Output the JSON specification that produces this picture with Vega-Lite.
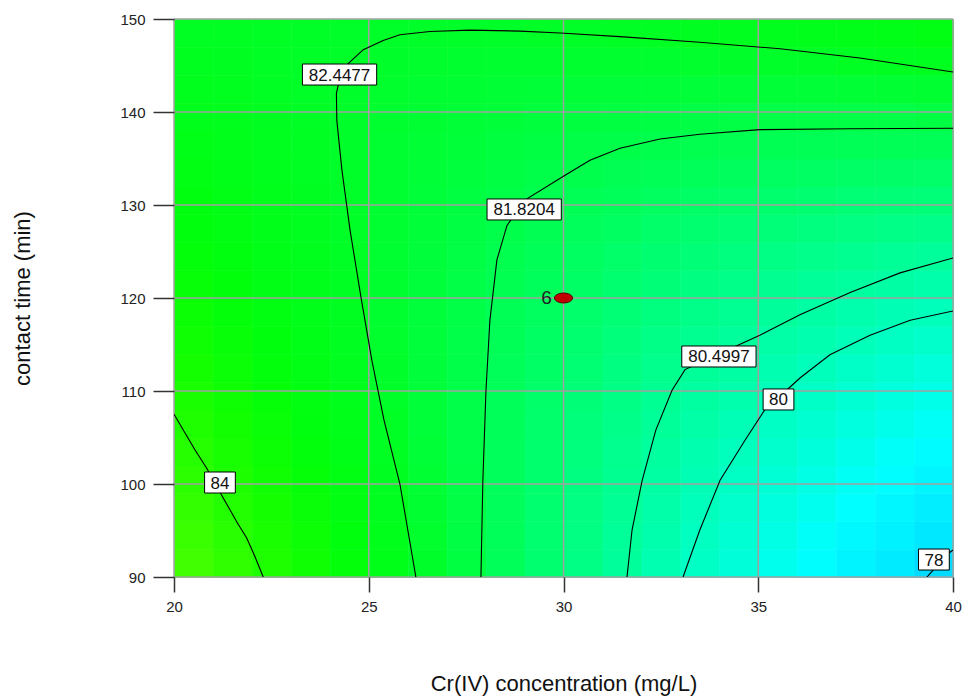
{
  "$schema": "https://vega.github.io/schema/vega-lite/v6.json",
  "width": 779,
  "height": 558,
  "autosize": {"type": "none"},
  "padding": {"left": 174, "top": 19, "right": 12, "bottom": 123},
  "background": "white",
  "config": {
    "view": {"stroke": null},
    "font": "Liberation Sans",
    "axis": {
      "domain": false, "grid": false,
      "tickColor": "#333333", "tickWidth": 1.5, "labelFlush": false,
      "labelFontSize": 15, "labelColor": "#222222", "labelFont": "Liberation Sans",
      "titleFontSize": 22, "titleFontWeight": "normal", "titleColor": "#111111", "titleFont": "Liberation Sans"
    },
    "axisX": {"tickSize": 15, "labelPadding": 7, "titlePadding": 59},
    "axisY": {"tickSize": 21, "labelPadding": 8, "titlePadding": 85}
  },
  "datasets": {
    "grid": [
      {"y": 90, "x": [20,21,22,23,24,25,26,27,28,29,30,31,32,33,34,35,36,37,38,39], "z": [84.64,84.24,83.84,83.46,83.08,82.70,82.33,81.97,81.61,81.26,80.91,80.57,80.24,79.91,79.59,79.28,78.97,78.66,78.37,78.07]},
      {"y": 93, "x": [20,21,22,23,24,25,26,27,28,29,30,31,32,33,34,35,36,37,38,39], "z": [84.47,84.09,83.71,83.35,82.98,82.63,82.28,81.93,81.60,81.26,80.94,80.62,80.30,79.99,79.69,79.40,79.11,78.82,78.54,78.27]},
      {"y": 96, "x": [20,21,22,23,24,25,26,27,28,29,30,31,32,33,34,35,36,37,38,39], "z": [84.31,83.95,83.59,83.24,82.90,82.56,82.23,81.91,81.59,81.27,80.97,80.67,80.37,80.08,79.80,79.52,79.25,78.99,78.73,78.47]},
      {"y": 99, "x": [20,21,22,23,24,25,26,27,28,29,30,31,32,33,34,35,36,37,38,39], "z": [84.15,83.81,83.47,83.14,82.82,82.50,82.19,81.88,81.58,81.29,81.00,80.72,80.44,80.17,79.91,79.65,79.40,79.16,78.92,78.68]},
      {"y": 102, "x": [20,21,22,23,24,25,26,27,28,29,30,31,32,33,34,35,36,37,38,39], "z": [84.00,83.68,83.36,83.05,82.75,82.45,82.15,81.87,81.59,81.31,81.04,80.78,80.52,80.27,80.03,79.79,79.56,79.33,79.11,78.90]},
      {"y": 105, "x": [20,21,22,23,24,25,26,27,28,29,30,31,32,33,34,35,36,37,38,39], "z": [83.86,83.55,83.25,82.96,82.68,82.40,82.12,81.86,81.60,81.34,81.09,80.85,80.61,80.38,80.15,79.93,79.72,79.51,79.31,79.12]},
      {"y": 108, "x": [20,21,22,23,24,25,26,27,28,29,30,31,32,33,34,35,36,37,38,39], "z": [83.72,83.43,83.15,82.88,82.62,82.36,82.10,81.85,81.61,81.38,81.14,80.92,80.70,80.49,80.28,80.08,79.89,79.70,79.52,79.34]},
      {"y": 111, "x": [20,21,22,23,24,25,26,27,28,29,30,31,32,33,34,35,36,37,38,39], "z": [83.58,83.32,83.06,82.81,82.56,82.32,82.08,81.86,81.63,81.42,81.20,81.00,80.80,80.61,80.42,80.24,80.06,79.90,79.73,79.58]},
      {"y": 114, "x": [20,21,22,23,24,25,26,27,28,29,30,31,32,33,34,35,36,37,38,39], "z": [83.46,83.21,82.97,82.74,82.51,82.29,82.07,81.86,81.66,81.46,81.27,81.08,80.90,80.73,80.56,80.40,80.25,80.10,79.95,79.81]},
      {"y": 117, "x": [20,21,22,23,24,25,26,27,28,29,30,31,32,33,34,35,36,37,38,39], "z": [83.34,83.11,82.89,82.68,82.47,82.26,82.07,81.88,81.69,81.51,81.34,81.18,81.01,80.86,80.71,80.57,80.43,80.30,80.18,80.06]},
      {"y": 120, "x": [20,21,22,23,24,25,26,27,28,29,30,31,32,33,34,35,36,37,38,39], "z": [83.22,83.02,82.81,82.62,82.43,82.25,82.07,81.90,81.73,81.57,81.42,81.27,81.13,81.00,80.87,80.74,80.62,80.51,80.41,80.31]},
      {"y": 123, "x": [20,21,22,23,24,25,26,27,28,29,30,31,32,33,34,35,36,37,38,39], "z": [83.11,82.93,82.74,82.57,82.40,82.23,82.08,81.92,81.78,81.64,81.50,81.37,81.25,81.14,81.03,80.92,80.82,80.73,80.65,80.57]},
      {"y": 126, "x": [20,21,22,23,24,25,26,27,28,29,30,31,32,33,34,35,36,37,38,39], "z": [83.01,82.84,82.68,82.52,82.37,82.23,82.09,81.96,81.83,81.71,81.59,81.48,81.38,81.28,81.19,81.11,81.03,80.96,80.89,80.83]},
      {"y": 129, "x": [20,21,22,23,24,25,26,27,28,29,30,31,32,33,34,35,36,37,38,39], "z": [82.92,82.77,82.62,82.48,82.35,82.23,82.11,81.99,81.89,81.78,81.69,81.60,81.51,81.44,81.36,81.30,81.24,81.19,81.14,81.10]},
      {"y": 132, "x": [20,21,22,23,24,25,26,27,28,29,30,31,32,33,34,35,36,37,38,39], "z": [82.83,82.70,82.57,82.45,82.34,82.23,82.13,82.04,81.95,81.87,81.79,81.72,81.65,81.60,81.54,81.50,81.46,81.42,81.39,81.37]},
      {"y": 135, "x": [20,21,22,23,24,25,26,27,28,29,30,31,32,33,34,35,36,37,38,39], "z": [82.74,82.63,82.52,82.43,82.33,82.24,82.16,82.09,82.02,81.95,81.90,81.85,81.80,81.76,81.73,81.70,81.68,81.66,81.65,81.65]},
      {"y": 138, "x": [20,21,22,23,24,25,26,27,28,29,30,31,32,33,34,35,36,37,38,39], "z": [82.66,82.57,82.48,82.40,82.33,82.26,82.20,82.14,82.09,82.05,82.01,81.98,81.95,81.93,81.92,81.91,81.91,81.91,81.92,81.94]},
      {"y": 141, "x": [20,21,22,23,24,25,26,27,28,29,30,31,32,33,34,35,36,37,38,39], "z": [82.59,82.52,82.45,82.39,82.33,82.29,82.24,82.21,82.17,82.15,82.13,82.12,82.11,82.11,82.11,82.13,82.14,82.17,82.19,82.23]},
      {"y": 144, "x": [20,21,22,23,24,25,26,27,28,29,30,31,32,33,34,35,36,37,38,39], "z": [82.52,82.47,82.42,82.38,82.34,82.32,82.29,82.27,82.26,82.26,82.26,82.26,82.27,82.29,82.32,82.35,82.38,82.43,82.47,82.53]},
      {"y": 147, "x": [20,21,22,23,24,25,26,27,28,29,30,31,32,33,34,35,36,37,38,39], "z": [82.46,82.43,82.40,82.38,82.36,82.35,82.35,82.35,82.35,82.37,82.39,82.41,82.44,82.48,82.53,82.57,82.63,82.69,82.76,82.83]}
    ],
    "gridx": [{"x": 20}, {"x": 25}, {"x": 30}, {"x": 35}, {"x": 40}],
    "gridy": [{"y": 90}, {"y": 100}, {"y": 110}, {"y": 120}, {"y": 130}, {"y": 140}, {"y": 150}],
    "contours": [
      {"level": "84", "i": 0, "x": 20, "y": 107.5},
      {"level": "84", "i": 1, "x": 20.54, "y": 103.66},
      {"level": "84", "i": 2, "x": 20.84, "y": 101.69},
      {"level": "84", "i": 3, "x": 21.22, "y": 98.82},
      {"level": "84", "i": 4, "x": 21.61, "y": 95.95},
      {"level": "84", "i": 5, "x": 21.87, "y": 94.16},
      {"level": "84", "i": 6, "x": 22.08, "y": 92.18},
      {"level": "84", "i": 7, "x": 22.29, "y": 90},
      {"level": "82.4477", "i": 0, "x": 26.21, "y": 90},
      {"level": "82.4477", "i": 1, "x": 25.8, "y": 100.0},
      {"level": "82.4477", "i": 2, "x": 25.39, "y": 106.9},
      {"level": "82.4477", "i": 3, "x": 25.08, "y": 113.3},
      {"level": "82.4477", "i": 4, "x": 24.8, "y": 120.1},
      {"level": "82.4477", "i": 5, "x": 24.52, "y": 127.3},
      {"level": "82.4477", "i": 6, "x": 24.31, "y": 133.8},
      {"level": "82.4477", "i": 7, "x": 24.18, "y": 139.1},
      {"level": "82.4477", "i": 8, "x": 24.17, "y": 142},
      {"level": "82.4477", "i": 9, "x": 24.3, "y": 144.5},
      {"level": "82.4477", "i": 10, "x": 24.52, "y": 145.4},
      {"level": "82.4477", "i": 11, "x": 24.86, "y": 146.7},
      {"level": "82.4477", "i": 12, "x": 25.37, "y": 147.7},
      {"level": "82.4477", "i": 13, "x": 25.8, "y": 148.3},
      {"level": "82.4477", "i": 14, "x": 26.57, "y": 148.66},
      {"level": "82.4477", "i": 15, "x": 27.6, "y": 148.8},
      {"level": "82.4477", "i": 16, "x": 28.88, "y": 148.7},
      {"level": "82.4477", "i": 17, "x": 29.91, "y": 148.5},
      {"level": "82.4477", "i": 18, "x": 31.45, "y": 148.1},
      {"level": "82.4477", "i": 19, "x": 33.5, "y": 147.5},
      {"level": "82.4477", "i": 20, "x": 35.56, "y": 146.8},
      {"level": "82.4477", "i": 21, "x": 37.61, "y": 145.8},
      {"level": "82.4477", "i": 22, "x": 40, "y": 144.3},
      {"level": "81.8204", "i": 0, "x": 27.88, "y": 90},
      {"level": "81.8204", "i": 1, "x": 27.93, "y": 100.4},
      {"level": "81.8204", "i": 2, "x": 28.01, "y": 110.1},
      {"level": "81.8204", "i": 3, "x": 28.11, "y": 117.6},
      {"level": "81.8204", "i": 4, "x": 28.29, "y": 124.1},
      {"level": "81.8204", "i": 5, "x": 28.55, "y": 127.8},
      {"level": "81.8204", "i": 6, "x": 29.0, "y": 130.5},
      {"level": "81.8204", "i": 7, "x": 30.04, "y": 133.2},
      {"level": "81.8204", "i": 8, "x": 30.68, "y": 134.8},
      {"level": "81.8204", "i": 9, "x": 31.45, "y": 136.1},
      {"level": "81.8204", "i": 10, "x": 32.48, "y": 137.1},
      {"level": "81.8204", "i": 11, "x": 33.5, "y": 137.6},
      {"level": "81.8204", "i": 12, "x": 35.04, "y": 138.1},
      {"level": "81.8204", "i": 13, "x": 37.36, "y": 138.2},
      {"level": "81.8204", "i": 14, "x": 40, "y": 138.25},
      {"level": "80.4997", "i": 0, "x": 31.63, "y": 90},
      {"level": "80.4997", "i": 1, "x": 31.76, "y": 95.05},
      {"level": "80.4997", "i": 2, "x": 32.02, "y": 100.4},
      {"level": "80.4997", "i": 3, "x": 32.37, "y": 105.8},
      {"level": "80.4997", "i": 4, "x": 32.79, "y": 110.1},
      {"level": "80.4997", "i": 5, "x": 33.12, "y": 112.3},
      {"level": "80.4997", "i": 6, "x": 34.0, "y": 114.0},
      {"level": "80.4997", "i": 7, "x": 35.04, "y": 116.0},
      {"level": "80.4997", "i": 8, "x": 36.07, "y": 118.2},
      {"level": "80.4997", "i": 9, "x": 37.36, "y": 120.6},
      {"level": "80.4997", "i": 10, "x": 38.64, "y": 122.7},
      {"level": "80.4997", "i": 11, "x": 40, "y": 124.3},
      {"level": "80", "i": 0, "x": 33.07, "y": 90},
      {"level": "80", "i": 1, "x": 33.5, "y": 95.05},
      {"level": "80", "i": 2, "x": 34.02, "y": 100.4},
      {"level": "80", "i": 3, "x": 34.66, "y": 104.7},
      {"level": "80", "i": 4, "x": 35.17, "y": 108.0},
      {"level": "80", "i": 5, "x": 35.6, "y": 109.6},
      {"level": "80", "i": 6, "x": 36.07, "y": 111.4},
      {"level": "80", "i": 7, "x": 36.84, "y": 113.9},
      {"level": "80", "i": 8, "x": 37.87, "y": 116.0},
      {"level": "80", "i": 9, "x": 38.9, "y": 117.6},
      {"level": "80", "i": 10, "x": 40, "y": 118.6},
      {"level": "78", "i": 0, "x": 39.33, "y": 90},
      {"level": "78", "i": 1, "x": 39.49, "y": 90.75},
      {"level": "78", "i": 2, "x": 39.9, "y": 92.58},
      {"level": "78", "i": 3, "x": 40, "y": 92.9}
    ],
    "labels": [
      {"label": "84", "x": 21.18, "y": 100.16},
      {"label": "82.4477", "x": 24.25, "y": 144.03},
      {"label": "81.8204", "x": 28.99, "y": 129.52},
      {"label": "80.4997", "x": 33.99, "y": 113.71},
      {"label": "80", "x": 35.52, "y": 109.09},
      {"label": "78", "x": 39.51, "y": 91.88}
    ],
    "design": [
      {"run": "6", "x": 30, "y": 120}
    ]
  },
  "layer": [
    {
      "data": {"name": "grid"},
      "transform": [{"flatten": ["x", "z"]}],
      "mark": {"type": "rect", "binSpacing": 0, "strokeWidth": 0.6},
      "encoding": {
        "x": {"field": "x", "type": "quantitative", "bin": {"binned": true, "step": 1}, "scale": {"domain": [20, 40], "nice": false, "zero": false},
              "axis": {"values": [20, 25, 30, 35, 40], "title": "Cr(IV) concentration (mg/L)"}},
        "y": {"field": "y", "type": "quantitative", "bin": {"binned": true, "step": 3}, "scale": {"domain": [90, 150], "nice": false, "zero": false},
              "axis": {"values": [90, 100, 110, 120, 130, 140, 150], "title": "contact time (min)"}},
        "color": {"field": "z", "type": "quantitative", "legend": null,
          "scale": {"domain": [77.8, 78.2, 79.0, 80.3, 81.5, 82.45, 83.0, 83.6, 84.7],
                    "range": ["#00c4ff", "#00e6ff", "#00ffff", "#00ffac", "#00ff60", "#00ff22", "#00ff0c", "#14ff00", "#44ff00"],
                    "interpolate": "rgb"}},
        "stroke": {"field": "z", "type": "quantitative", "legend": null,
          "scale": {"domain": [77.8, 78.2, 79.0, 80.3, 81.5, 82.45, 83.0, 83.6, 84.7],
                    "range": ["#00c4ff", "#00e6ff", "#00ffff", "#00ffac", "#00ff60", "#00ff22", "#00ff0c", "#14ff00", "#44ff00"],
                    "interpolate": "rgb"}}
      }
    },
    {
      "data": {"name": "gridx"},
      "mark": {"type": "rule", "color": "#a0a0a0", "strokeWidth": 1.5},
      "encoding": {
        "x": {"field": "x", "type": "quantitative", "axis": {"values": [20, 25, 30, 35, 40], "title": "Cr(IV) concentration (mg/L)"}}
      }
    },
    {
      "data": {"name": "gridy"},
      "mark": {"type": "rule", "color": "#a0a0a0", "strokeWidth": 1.5},
      "encoding": {
        "y": {"field": "y", "type": "quantitative", "axis": {"values": [90, 100, 110, 120, 130, 140, 150], "title": "contact time (min)"}}
      }
    },
    {
      "data": {"name": "contours"},
      "mark": {"type": "line", "color": "#000000", "strokeWidth": 1.1, "clip": true},
      "encoding": {
        "x": {"field": "x", "type": "quantitative", "axis": {"values": [20, 25, 30, 35, 40], "title": "Cr(IV) concentration (mg/L)"}},
        "y": {"field": "y", "type": "quantitative", "axis": {"values": [90, 100, 110, 120, 130, 140, 150], "title": "contact time (min)"}},
        "detail": {"field": "level", "type": "nominal"},
        "order": {"field": "i", "type": "quantitative"}
      }
    },
    {
      "data": {"name": "labels"},
      "mark": {"type": "point", "filled": true, "fill": "#ffffff", "stroke": "#000000", "strokeWidth": 1, "opacity": 1, "size": 5625},
      "encoding": {
        "x": {"field": "x", "type": "quantitative", "axis": {"values": [20, 25, 30, 35, 40], "title": "Cr(IV) concentration (mg/L)"}},
        "y": {"field": "y", "type": "quantitative", "axis": {"values": [90, 100, 110, 120, 130, 140, 150], "title": "contact time (min)"}},
        "shape": {"field": "label", "type": "nominal", "legend": null,
          "scale": {"domain": ["84", "82.4477", "81.8204", "80.4997", "80", "78"],
                    "range": ["M-0.41,-0.28L0.41,-0.28L0.41,0.28L-0.41,0.28Z", "M-0.99,-0.28L0.99,-0.28L0.99,0.28L-0.99,0.28Z", "M-0.99,-0.28L0.99,-0.28L0.99,0.28L-0.99,0.28Z", "M-0.99,-0.28L0.99,-0.28L0.99,0.28L-0.99,0.28Z", "M-0.41,-0.28L0.41,-0.28L0.41,0.28L-0.41,0.28Z", "M-0.41,-0.28L0.41,-0.28L0.41,0.28L-0.41,0.28Z"]}}
      }
    },
    {
      "data": {"name": "labels"},
      "mark": {"type": "text", "fontSize": 17, "font": "Liberation Sans", "color": "#111111", "align": "center", "baseline": "middle", "dy": 1},
      "encoding": {
        "x": {"field": "x", "type": "quantitative", "axis": {"values": [20, 25, 30, 35, 40], "title": "Cr(IV) concentration (mg/L)"}},
        "y": {"field": "y", "type": "quantitative", "axis": {"values": [90, 100, 110, 120, 130, 140, 150], "title": "contact time (min)"}},
        "text": {"field": "label", "type": "nominal"}
      }
    },
    {
      "data": {"name": "design"},
      "mark": {"type": "point", "filled": true, "fill": "#c00000", "stroke": "#500000", "strokeWidth": 1, "opacity": 1, "size": 324,
               "shape": "M-1,0A1,0.55,0,1,0,1,0A1,0.55,0,1,0,-1,0Z"},
      "encoding": {
        "x": {"field": "x", "type": "quantitative", "axis": {"values": [20, 25, 30, 35, 40], "title": "Cr(IV) concentration (mg/L)"}},
        "y": {"field": "y", "type": "quantitative", "axis": {"values": [90, 100, 110, 120, 130, 140, 150], "title": "contact time (min)"}}
      }
    },
    {
      "data": {"name": "design"},
      "mark": {"type": "text", "fontSize": 19, "font": "Liberation Sans", "color": "#222222", "align": "center", "baseline": "middle", "dx": -17, "dy": 0},
      "encoding": {
        "x": {"field": "x", "type": "quantitative", "axis": {"values": [20, 25, 30, 35, 40], "title": "Cr(IV) concentration (mg/L)"}},
        "y": {"field": "y", "type": "quantitative", "axis": {"values": [90, 100, 110, 120, 130, 140, 150], "title": "contact time (min)"}},
        "text": {"field": "run", "type": "nominal"}
      }
    }
  ]
}
